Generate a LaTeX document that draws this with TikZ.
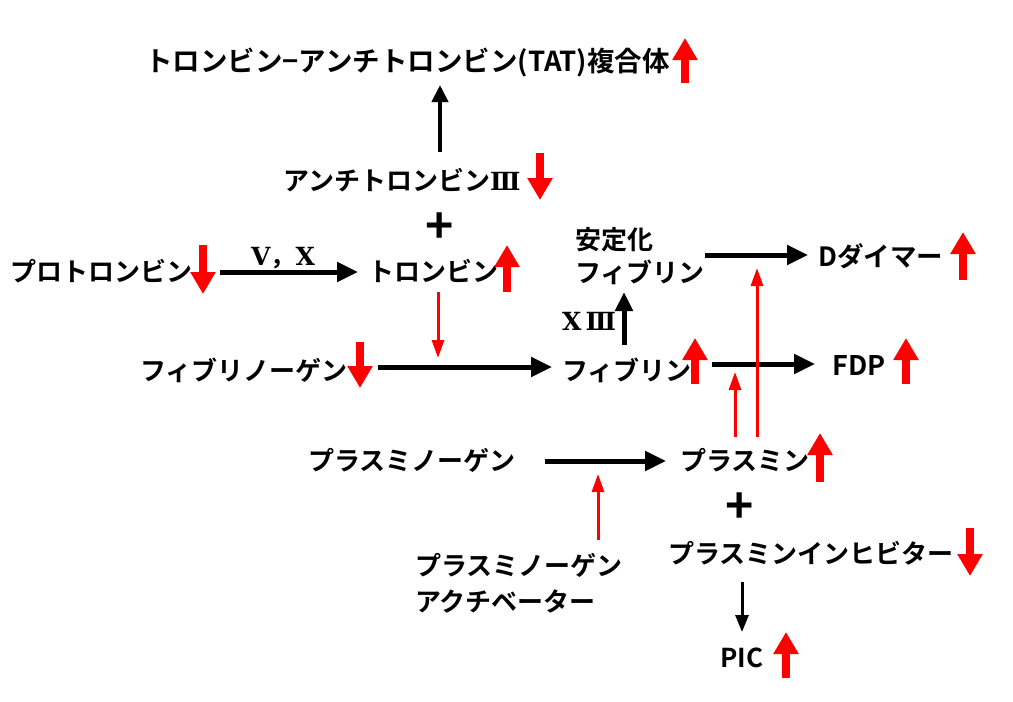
\documentclass[tikz,border=0pt]{standalone}
\usepackage{fontspec}
\setmainfont{Noto Sans CJK JP}[BoldFont={Noto Sans CJK JP Bold}]
\newfontfamily\romfont{DejaVu Serif}[BoldFont={DejaVu Serif Bold}]
\usetikzlibrary{arrows.meta}
\newcommand\fatmark[3]{\draw[fatred] (#1,#2) -- (#1,#3);}
\begin{document}
\begin{tikzpicture}[x=1pt,y=-1pt,
  lbl/.style={anchor=base west,inner sep=0pt,font=\fontsize{26}{30}\selectfont\bfseries},
  small/.style={anchor=base,inner sep=0pt,font=\fontsize{25}{30}\selectfont\bfseries},
  plus/.style={inner sep=0pt,font=\fontsize{48}{50}\selectfont\bfseries},
  fatred/.style={draw=red,line width=8pt,-{Triangle[width=24pt,length=22pt]}},
  blk/.style={draw=black,line width=5pt,-{Triangle[width=19pt,length=21pt]}},
  blkthin/.style={draw=black,line width=3pt,-{Triangle[width=13pt,length=17pt]}},
  redthin/.style={draw=red,line width=3pt,-{Triangle[width=12pt,length=18pt]}}]
\useasboundingbox[fill=white] (0,0) rectangle (1013,702);

% text nodes
\node[lbl,font=\fontsize{27.5}{30}\selectfont\bfseries] (tat) at (145,71) {トロンビン−アンチトロンビン(TAT)複合体};
\node[lbl] (at3) at (283,190) {アンチトロンビン{\romfont\fontsize{25}{30}\selectfont Ⅲ}};
\node[plus] (plus1) at (440,228) {+};
\node[lbl] (prot) at (10,281) {プロトロンビン};
\node[lbl] (thr) at (368,281) {トロンビン};
\node[small] (vx) at (283,265) {{\romfont Ⅴ}，{\romfont Ⅹ}};
\node[lbl] (fbg) at (140,380) {フィブリノーゲン};
\node[lbl] (fib) at (562,380) {フィブリン};
\node[small] (x13) at (589,330) {{\romfont Ⅹ}\,{\romfont Ⅲ}};
\node[lbl] (stab1) at (575,249) {安定化};
\node[lbl] (stab2) at (575,282) {フィブリン};
\node[lbl,font=\fontsize{26.5}{30}\selectfont\bfseries] (dd) at (818,266) {Dダイマー};
\node[lbl,font=\fontsize{27}{30}\selectfont\bfseries] (fdp) at (832,375) {FDP};
\node[lbl] (plg) at (308,470) {プラスミノーゲン};
\node[lbl] (pls) at (680,470) {プラスミン};
\node[plus] (plus2) at (740,508) {+};
\node[lbl] (pi) at (668,563) {プラスミンインヒビター};
\node[lbl] (pa1) at (415,575) {プラスミノーゲン};
\node[lbl] (pa2) at (415,611) {アクチベーター};
\node[lbl] (pic) at (720,667) {PIC};

% connector end points
\coordinate (c1) at (440,152);
\coordinate (c2) at (440,85);
\coordinate (c3) at (220,272);
\coordinate (c4) at (358,272);
\coordinate (c5) at (438,292);
\coordinate (c6) at (438,358);
\coordinate (c7) at (378,367);
\coordinate (c8) at (552,367);
\coordinate (c9) at (624,345);
\coordinate (c10) at (624,292);
\coordinate (c11) at (705,255);
\coordinate (c12) at (808,255);
\coordinate (c13) at (712,364);
\coordinate (c14) at (815,364);
\coordinate (c15) at (757,437);
\coordinate (c16) at (757,268);
\coordinate (c17) at (735,437);
\coordinate (c18) at (735,372);
\coordinate (c19) at (545,461);
\coordinate (c20) at (666,461);
\coordinate (c21) at (598,540);
\coordinate (c22) at (598,474);
\coordinate (c23) at (742,582);
\coordinate (c24) at (742,632);

% connectors
\draw[blk,line width=4pt,-{Triangle[width=16pt,length=17pt]}] (c1) -- (c2);
\draw[blk] (c3) -- (c4);
\draw[redthin] (c5) -- (c6);
\draw[blk] (c7) -- (c8);
\draw[blk,-{Triangle[width=17pt,length=19pt]}] (c9) -- (c10);
\draw[blk] (c11) -- (c12);
\draw[blk] (c13) -- (c14);
\draw[redthin] (c15) -- (c16);
\draw[redthin] (c17) -- (c18);
\draw[blk] (c19) -- (c20);
\draw[redthin] (c21) -- (c22);
\draw[blkthin] (c23) -- (c24);

% up/down markers
\fatmark{685}{83}{38}
\fatmark{540}{153}{200}
\fatmark{203}{245}{294}
\fatmark{507}{292}{245}
\fatmark{360}{342}{388}
\fatmark{695}{384}{338}
\fatmark{963}{280}{232}
\fatmark{906}{384}{338}
\fatmark{820}{482}{433}
\fatmark{970}{528}{576}
\fatmark{786}{678}{632}
\end{tikzpicture}
\end{document}
